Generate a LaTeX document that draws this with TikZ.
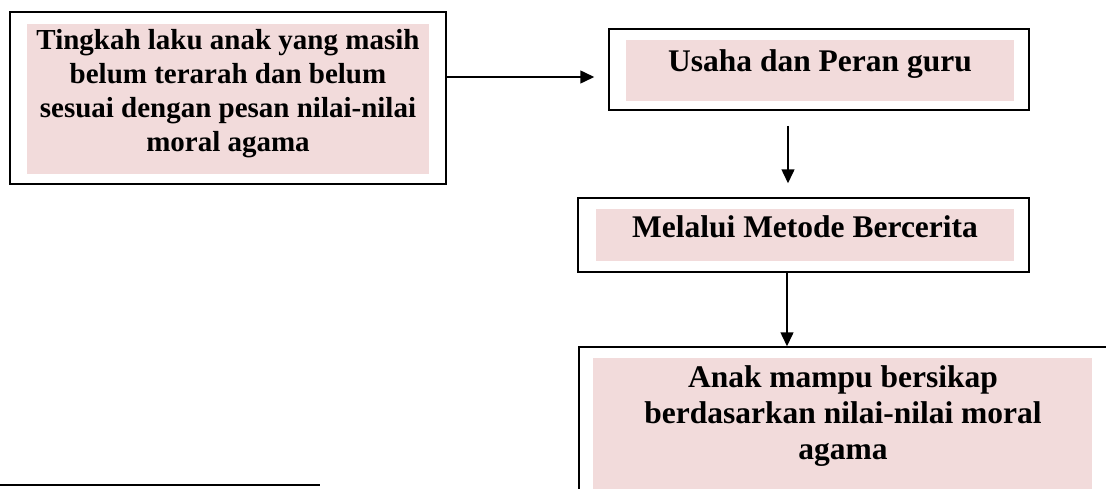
\documentclass[tikz,border=0pt]{standalone}
\usepackage{fontspec}
\setmainfont{Liberation Serif}
\usetikzlibrary{arrows.meta}
\definecolor{pinkfill}{HTML}{F2DBDB}
\begin{document}
\begin{tikzpicture}[x=1pt,y=-1pt,
  outerbox/.style={draw=black, line width=1.5pt, fill=white, inner sep=0pt},
  pinkbox/.style={fill=pinkfill, draw=none, inner sep=0pt},
  labelA/.style={font=\bfseries\fontsize{29}{34}\selectfont, align=center, inner sep=0pt},
  labelB/.style={font=\bfseries\fontsize{31.5}{36}\selectfont, align=center, inner sep=0pt},
  conn/.style={line width=1.5pt, -{Triangle[length=14pt,width=13pt]}}]
\clip (0,0) rectangle (1106,488);
\fill[white] (0,0) rectangle (1106,488);
% outer boxes
\node[outerbox, minimum width=436pt, minimum height=172pt] (b1) at (228,98) {};
\node[outerbox, minimum width=420pt, minimum height=81pt] (b2) at (819,69.5) {};
\node[outerbox, minimum width=451pt, minimum height=74pt] (b3) at (803.5,235) {};
\node[outerbox, minimum width=541pt, minimum height=163pt] (b4) at (849.5,428.5) {};
% pink fills
\node[pinkbox, minimum width=402pt, minimum height=150pt] (p1) at (228,99) {};
\node[pinkbox, minimum width=388pt, minimum height=61pt] (p2) at (820,70.5) {};
\node[pinkbox, minimum width=418pt, minimum height=52pt] (p3) at (805,235) {};
\node[pinkbox, minimum width=499pt, minimum height=142pt] (p4) at (842.5,429) {};
% texts
\node[labelA] (t1) at (228,94) {Tingkah laku anak yang masih\\belum terarah dan belum\\sesuai dengan pesan nilai-nilai\\moral agama};
\node[labelB, anchor=base] (t2) at (820,71) {Usaha dan Peran guru};
\node[labelB, anchor=base] (t3) at (805,237) {Melalui Metode Bercerita};
\node[labelB] (t4) at (843,416.5) {Anak mampu bersikap\\berdasarkan nilai-nilai moral\\agama};
% connectors
\coordinate (xa) at (788,0);
\coordinate (xb) at (787,0);
\draw[conn, shorten >=14pt] ([yshift=21pt]b1.east) -- ([yshift=21pt]b1.east -| b2.west);
\draw[conn, shorten <=15pt, shorten >=14pt] (b2.south -| xa) -- (b3.north -| xa);
\draw[conn] (b3.south -| xb) -- (b4.north -| xb);
% footnote rule
\draw[line width=2pt] (0,485) -- (320,485);
\end{tikzpicture}
\end{document}
